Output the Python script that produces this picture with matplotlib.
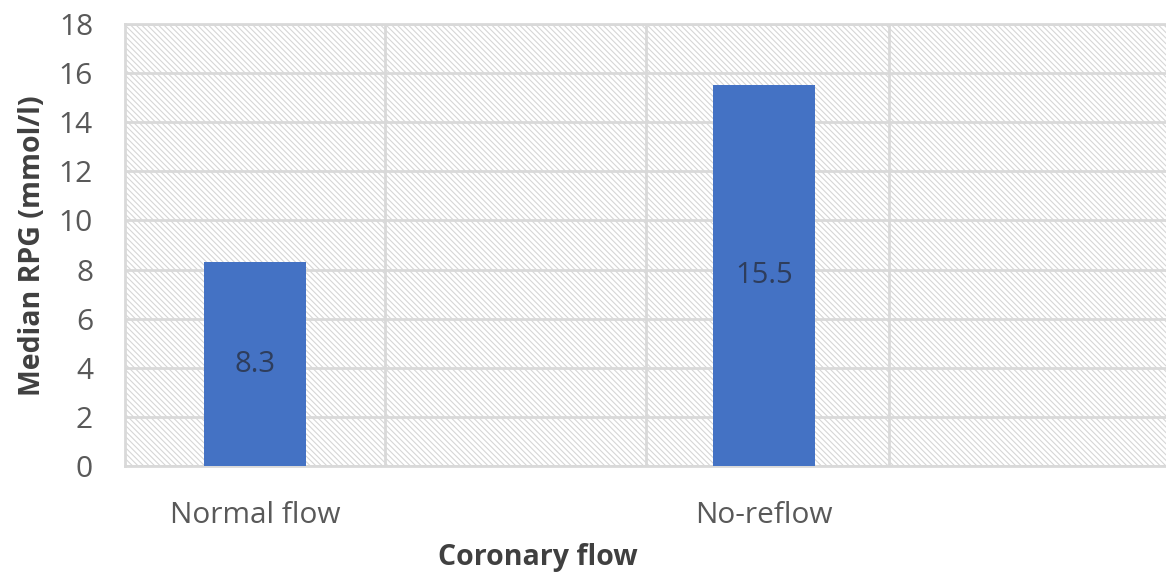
import matplotlib.pyplot as plt
from matplotlib.patches import Rectangle

categories = ["Normal flow", "No-reflow"]
median_rpg = [8.3, 15.5]
value_labels = ["8.3", "15.5"]
y_ticks = [0, 2, 4, 6, 8, 10, 12, 14, 16, 18]

plt.rcParams['font.family'] = ['Open Sans', 'DejaVu Sans']
plt.rcParams['hatch.color'] = '#d6d6d6'
plt.rcParams['hatch.linewidth'] = 0.8

fig = plt.figure(figsize=(11.66, 5.77), dpi=100)
ax = fig.add_axes([0.1072, 0.1924, 0.8928, 0.766])

# hatched plot area background
ax.add_patch(Rectangle((0, 0), 1, 1, transform=ax.transAxes, facecolor='white',
                       edgecolor='#d6d6d6', hatch='\\\\\\\\\\\\', linewidth=0, zorder=0))

x = [0, 1]
ax.bar(x, median_rpg, width=0.2, color='#4472c4', zorder=3)
for xi, v, lab in zip(x, median_rpg, value_labels):
    ax.text(xi, v / 2, lab, ha='center', va='center', fontsize=21, color='#2e3d5c', zorder=4)

ax.set_xlim(-0.255, 1.79)
ax.set_ylim(0, 18)
ax.set_yticks(y_ticks)
ax.set_xticks(x)
ax.set_xticklabels(categories)
ax.set_xticks([0.255, 0.768, 1.245], minor=True)

ax.grid(axis='y', color='#d9d9d9', linewidth=2, zorder=1)
ax.grid(axis='x', which='minor', color='#d9d9d9', linewidth=2, zorder=1)
ax.tick_params(axis='both', which='both', length=0)
ax.tick_params(axis='y', labelsize=21.5, labelcolor='#595959', pad=23)
ax.tick_params(axis='x', labelsize=21.5, labelcolor='#595959', pad=25)

for s in ['left', 'bottom', 'top']:
    ax.spines[s].set_color('#d9d9d9')
    ax.spines[s].set_linewidth(2)
ax.spines['right'].set_visible(False)

ax.set_ylabel('Median RPG (mmol/l)', fontsize=20.5, fontweight='bold', color='#404040')
ax.set_xlabel('Coronary flow', fontsize=20.5, fontweight='bold', color='#404040')
ax.yaxis.set_label_coords(-0.0884, 0.498)
ax.xaxis.set_label_coords(0.397, -0.208)
ax.xaxis.label.set_va('center')
ax.yaxis.label.set_va('center')

fig.savefig('out.png', dpi=100)
